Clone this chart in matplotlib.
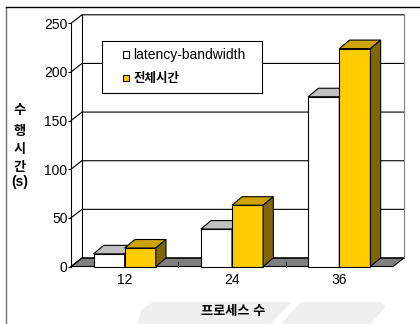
import numpy as np
import matplotlib
matplotlib.use('Agg')
import matplotlib.pyplot as plt
from matplotlib.patches import Polygon, Rectangle, Patch
from matplotlib.legend_handler import HandlerPatch
from matplotlib.lines import Line2D

plt.rcParams['font.family'] = ['Liberation Sans', 'Noto Sans CJK KR']

# ---------------- data ----------------
categories = ['12', '24', '36']
series_names = ['latency-bandwidth', '전체시간']
latency_bw = [13, 38.5, 174.5]
total_time = [19, 63, 224]
y_ticks = [0, 50, 100, 150, 200, 250]
y_label_parts = ['수', '행', '시', '간', '(s)']
x_label = '프로세스 수'

# ---------------- styles ----------------
W, H = 420, 324
WHITE_FRONT, WHITE_TOP = 'white', '#C0C0C0'
YEL_FRONT, YEL_TOP, YEL_SIDE = '#FFCC00', '#CCA300', '#806600'
FLOOR = '#808080'
DX, DY = 0.1025, 8.74     # wall depth (category units, value units)
BDX, BDY = 0.095, 8.74    # bar depth
BW = 0.29
LW = 0.8

fig = plt.figure(figsize=(W / 100, H / 100), dpi=100)
fig.patch.set_facecolor('white')

# light watermark shapes at the bottom
for pts in ([(137, 324), (142, 309), (153, 302), (292, 302), (270, 324)],
            [(281, 324), (301, 302), (380, 302), (386, 306), (371, 324)]):
    fig.add_artist(Polygon([(px / W, 1 - py / H) for px, py in pts], closed=True,
                           transform=fig.transFigure, fc='#EFEFEF', ec='none', zorder=0))

# outer frame (left + top)
fig.add_artist(Line2D([6 / W, 6 / W], [0, 1 - 7 / H], color='#707070', lw=1))
fig.add_artist(Line2D([6 / W, 1], [1 - 7 / H, 1 - 7 / H], color='black', lw=1))

ax = fig.add_axes([71 / W, 1 - 266.5 / H, 322 / W, 243.2 / H])
ax.set_xlim(-0.5, len(categories) - 0.5)
ax.set_ylim(0, y_ticks[-1])
ax.patch.set_alpha(0)
x = np.arange(len(categories))
xl, xr = -0.5, len(categories) - 0.5
ytop = y_ticks[-1]

# floor
ax.add_patch(Polygon([(xl, 0), (xr, 0), (xr + DX, DY), (xl + DX, DY)], closed=True,
                     fc=FLOOR, ec='black', lw=LW, clip_on=False, zorder=1))
# gridlines on side wall + back wall
for t in y_ticks:
    ax.plot([xl, xl + DX, xr + DX], [t, t + DY, t + DY], color='black', lw=LW,
            clip_on=False, zorder=1.1, solid_joinstyle='miter')
ax.plot([xl + DX, xl + DX], [DY, ytop + DY], color='black', lw=LW, clip_on=False, zorder=1.1)
ax.plot([xr + DX, xr + DX], [DY, ytop + DY], color='#808080', lw=LW, clip_on=False, zorder=1.1)
# category ticks on floor
for b in x[:-1] + 0.5:
    ax.plot([b, b], [0, 5], color='#303030', lw=LW, clip_on=False, zorder=1.2)

# bars
def draw_bars(xc, vals, front, top, side, z):
    ax.bar(xc, vals, BW, color=front, edgecolor='black', lw=LW, zorder=z, clip_on=False)
    for xi, v in zip(xc, vals):
        x0, x1 = xi - BW / 2, xi + BW / 2
        ax.add_patch(Polygon([(x0, v), (x1, v), (x1 + BDX, v + BDY), (x0 + BDX, v + BDY)],
                             closed=True, fc=top, ec='black', lw=LW, zorder=z, clip_on=False))
        ax.add_patch(Polygon([(x1, 0), (x1, v), (x1 + BDX, v + BDY), (x1 + BDX, BDY)],
                             closed=True, fc=side, ec='black', lw=LW, zorder=z, clip_on=False))

draw_bars(x - BW / 2, latency_bw, WHITE_FRONT, WHITE_TOP, WHITE_TOP, 3)
draw_bars(x + BW / 2, total_time, YEL_FRONT, YEL_TOP, YEL_SIDE, 4)

# axes
for s in ['top', 'right', 'bottom']:
    ax.spines[s].set_visible(False)
ax.spines['left'].set_linewidth(LW)
ax.spines['left'].set_zorder(2)
ax.set_yticks(y_ticks)
ax.set_xticks(x, categories)
ax.tick_params(axis='y', length=2, width=LW, pad=0.5, labelsize=10)
ax.tick_params(axis='x', length=0, pad=5, labelsize=10)

# legend
def square(legend, orig_handle, xdescent, ydescent, width, height, fontsize):
    s = 4.4
    return Rectangle((-xdescent + width - s, -ydescent + (height - s) / 2), s, s)

handles = [Patch(fc=WHITE_FRONT, ec='black', lw=LW), Patch(fc=YEL_FRONT, ec='black', lw=LW)]
leg = ax.legend(handles, series_names, handler_map={Patch: HandlerPatch(patch_func=square)},
                loc='upper left', bbox_to_anchor=(102.3 / W, 1 - 92.3 / H, 159.4 / W, 51.6 / H),
                bbox_transform=fig.transFigure, mode='expand', borderaxespad=0,
                borderpad=0.55, handlelength=1.375, handleheight=0.7, handletextpad=0.31,
                labelspacing=0.75, fancybox=False, edgecolor='black', framealpha=1, fontsize=10)
leg.get_frame().set_linewidth(LW)
leg.get_texts()[1].set_fontsize(9)
leg.get_texts()[1].set_fontweight('bold')

# axis titles
for txt, py in zip(y_label_parts, [110.7, 131.7, 150, 168.3, 181.7]):
    fig.text(20 / W, 1 - py / H, txt, ha='center', va='center', weight='bold',
             size=10 if txt.startswith('(') else 9.5)
fig.text(233 / W, 1 - 312 / H, x_label, ha='center', va='center', weight='bold', size=9.5)

fig.savefig('out.png', dpi=100)
